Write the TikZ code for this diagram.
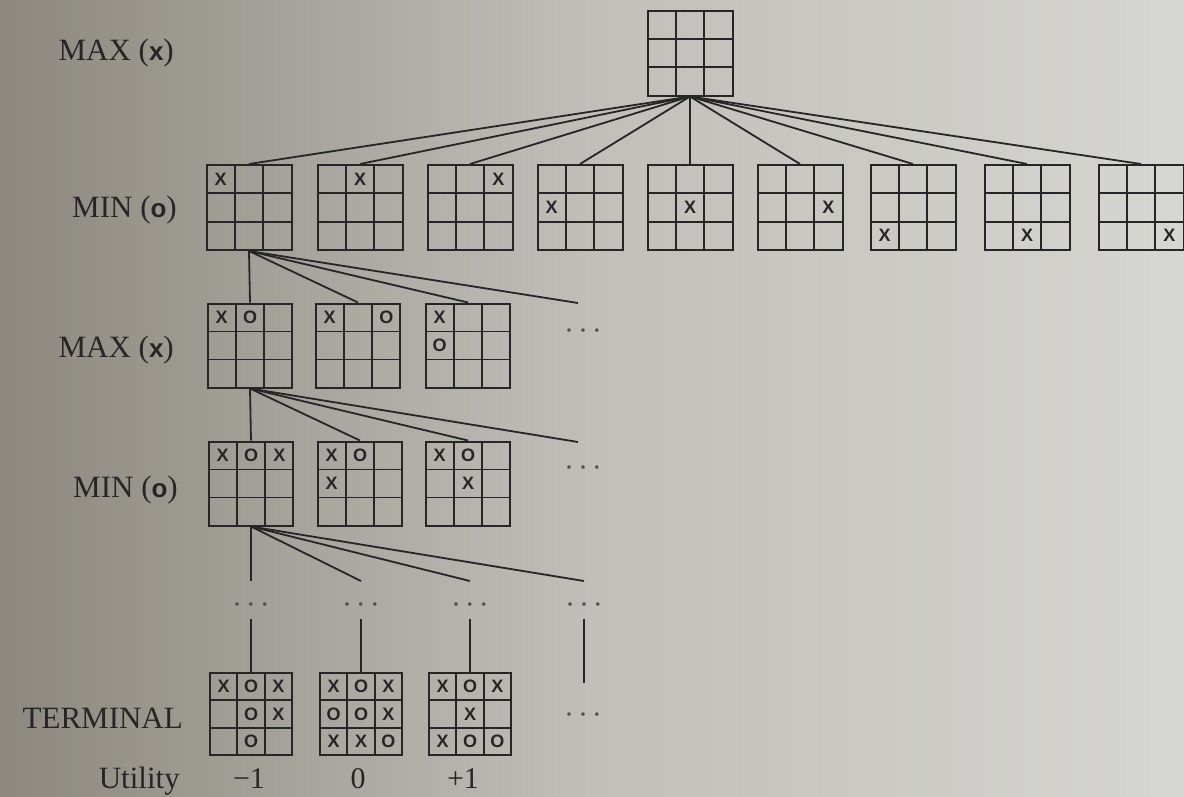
\documentclass[tikz,border=0pt]{standalone}
\usepackage{fontspec}
\setmainfont{Liberation Serif}
\newfontfamily\marksf{Liberation Sans}
\newfontfamily\labsf{Liberation Sans}
\usetikzlibrary{calc}
\definecolor{ink}{RGB}{38,38,38}
\definecolor{bgL}{RGB}{140,136,127}
\definecolor{bgM}{RGB}{192,191,185}
\definecolor{bgR}{RGB}{214,214,210}
\newcommand\cellw{28.3}
\newcommand\mk[4]{\node[mk] (#1-#2#3) at ($(#1.center)+({(#2-2)*\cellw},{(#3-2)*\cellw})$) {#4};}
\begin{document}
\begin{tikzpicture}[x=1pt,y=-1pt,
  board/.style={draw=ink, line width=2pt, minimum size=#1, inner sep=0pt,
    path picture={
      \foreach \t in {0.3333,0.6667} {
        \draw[ink,line width=1.8pt]
          ($(path picture bounding box.north west)!\t!(path picture bounding box.north east)$) --
          ($(path picture bounding box.south west)!\t!(path picture bounding box.south east)$);
        \draw[ink,line width=1.8pt]
          ($(path picture bounding box.north west)!\t!(path picture bounding box.south west)$) --
          ($(path picture bounding box.north east)!\t!(path picture bounding box.south east)$);
      }}},
  board/.default=85pt,
  mk/.style={font=\marksf\bfseries\fontsize{18}{18}\selectfont, text=ink, inner sep=0pt},
  edgeln/.style={draw=ink, line width=1.8pt},
  lvl/.style={font=\fontsize{31}{31}\selectfont, text=ink, anchor=base east, inner sep=0pt},
  util/.style={font=\fontsize{30}{30}\selectfont, text=ink, anchor=base, inner sep=0pt},
  dotsn/.style={font=\fontsize{30}{30}\selectfont, text=ink!80, anchor=base, inner sep=0pt},
]
\useasboundingbox (0,0) rectangle (1184,796);
\clip (0,0) rectangle (1184,796);
\shade[left color=bgL, right color=bgR, middle color=bgM] (0,0) rectangle (1184,796);

% level labels
\node[lvl] (l1) at (174,60) {MAX ({\labsf\bfseries\fontsize{26}{26}\selectfont x})};
\node[lvl] (l2) at (177,217) {MIN ({\labsf\bfseries\fontsize{26}{26}\selectfont o})};
\node[lvl] (l3) at (174,357) {MAX ({\labsf\bfseries\fontsize{26}{26}\selectfont x})};
\node[lvl] (l4) at (178,497) {MIN ({\labsf\bfseries\fontsize{26}{26}\selectfont o})};
\node[lvl] (l5) at (183,728) {TERMINAL};
\node[lvl] (l6) at (180,788) {Utility};

% root
\node[board] (r) at (690,53) {};

% MIN level
\foreach \i/\x in {1/249,2/360,3/470,4/580,5/690,6/800,7/913,8/1027,9/1141}
  \node[board] (a\i) at (\x,207.5) {};
\mk{a1}{1}{1}{X}
\mk{a2}{2}{1}{X}
\mk{a3}{3}{1}{X}
\mk{a4}{1}{2}{X}
\mk{a5}{2}{2}{X}
\mk{a6}{3}{2}{X}
\mk{a7}{1}{3}{X}
\mk{a8}{2}{3}{X}
\mk{a9}{3}{3}{X}
\foreach \i in {1,...,9} \draw[edgeln] (r.south) -- (a\i.north);

% MAX level
\foreach \i/\x in {1/250,2/358,3/468}
  \node[board=84pt] (b\i) at (\x,345.5) {};
\mk{b1}{1}{1}{X} \mk{b1}{2}{1}{O}
\mk{b2}{1}{1}{X} \mk{b2}{3}{1}{O}
\mk{b3}{1}{1}{X} \mk{b3}{1}{2}{O}
\coordinate (q1) at (578,303);
\node[dotsn] (d1) at (583,340) {·\hspace{4pt}·\hspace{4pt}·};
\foreach \i in {1,2,3} \draw[edgeln] (a1.south) -- (b\i.north);
\draw[edgeln] (a1.south) -- (q1);

% MIN level 2
\foreach \i/\x in {1/251,2/360,3/468}
  \node[board=84pt] (c\i) at (\x,483.5) {};
\mk{c1}{1}{1}{X} \mk{c1}{2}{1}{O} \mk{c1}{3}{1}{X}
\mk{c2}{1}{1}{X} \mk{c2}{2}{1}{O} \mk{c2}{1}{2}{X}
\mk{c3}{1}{1}{X} \mk{c3}{2}{1}{O} \mk{c3}{2}{2}{X}
\coordinate (q2) at (578,442);
\node[dotsn] (d2) at (583,477) {·\hspace{4pt}·\hspace{4pt}·};
\foreach \i in {1,2,3} \draw[edgeln] (b1.south) -- (c\i.north);
\draw[edgeln] (b1.south) -- (q2);

% intermediate dots level
\foreach \i/\x in {1/251,2/361,3/470,4/584}{
  \coordinate (e\i) at (\x,581);
  \node[dotsn] (m\i) at (\x,614) {·\hspace{4pt}·\hspace{4pt}·};
  \draw[edgeln] (c1.south) -- (e\i);
}

% terminal level
\def\cellw{27.3}
\foreach \i/\x in {1/251,2/361,3/470}
  \node[board=82pt] (t\i) at (\x,714) {};
\mk{t1}{1}{1}{X} \mk{t1}{2}{1}{O} \mk{t1}{3}{1}{X}
\mk{t1}{2}{2}{O} \mk{t1}{3}{2}{X}
\mk{t1}{2}{3}{O}
\mk{t2}{1}{1}{X} \mk{t2}{2}{1}{O} \mk{t2}{3}{1}{X}
\mk{t2}{1}{2}{O} \mk{t2}{2}{2}{O} \mk{t2}{3}{2}{X}
\mk{t2}{1}{3}{X} \mk{t2}{2}{3}{X} \mk{t2}{3}{3}{O}
\mk{t3}{1}{1}{X} \mk{t3}{2}{1}{O} \mk{t3}{3}{1}{X}
\mk{t3}{2}{2}{X}
\mk{t3}{1}{3}{X} \mk{t3}{2}{3}{O} \mk{t3}{3}{3}{O}
\foreach \i in {1,2,3} \draw[edgeln, shorten <=5pt] (m\i.south) -- (t\i.north);
\coordinate (g4) at (584,683);
\draw[edgeln, shorten <=5pt] (m4.south) -- (g4);
\node[dotsn] (d3) at (583,724) {·\hspace{4pt}·\hspace{4pt}·};

% utilities
\node[util] (u1) at (249,788) {−1};
\node[util] (u2) at (358,788) {0};
\node[util] (u3) at (463,788) {+1};
\end{tikzpicture}
\end{document}
